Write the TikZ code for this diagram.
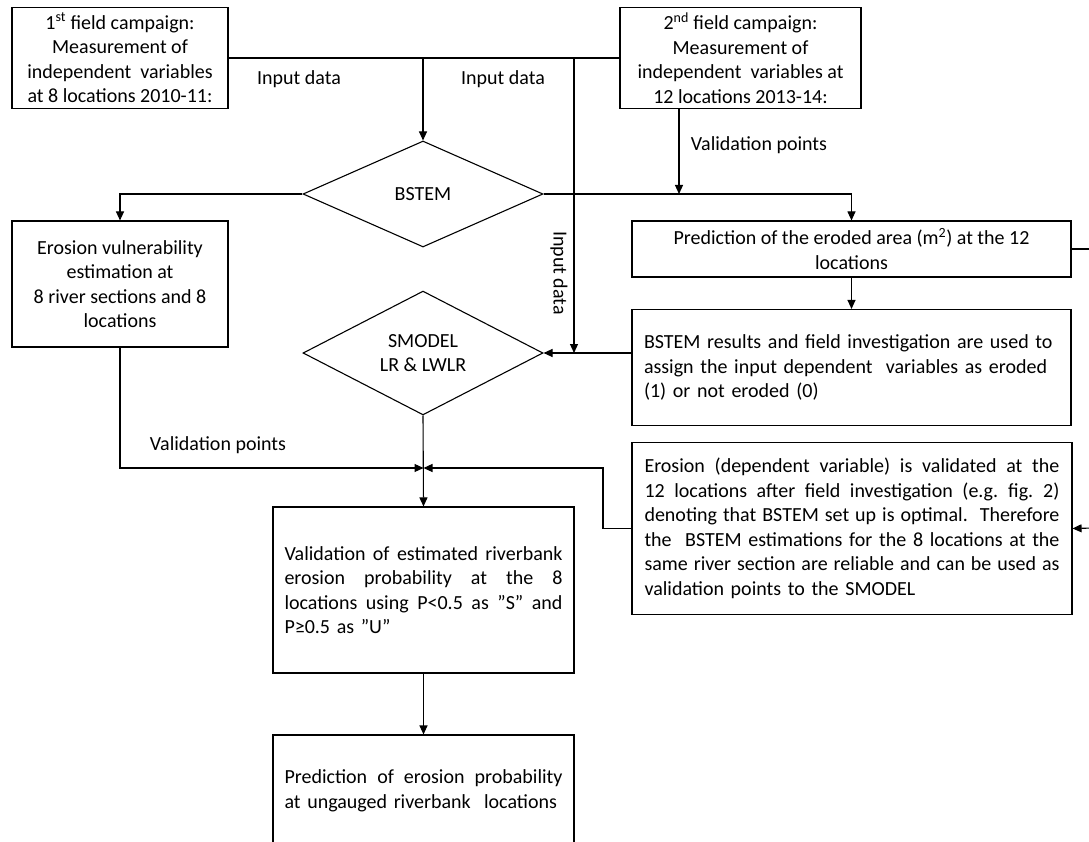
\documentclass[tikz,border=0pt]{standalone}
\usepackage{fontspec}
\setmainfont{Carlito}
\usetikzlibrary{arrows.meta,shapes.geometric}
\newcommand{\jline}[2]{\leavevmode\hbox to #1{\spaceskip=0.23em plus 1fil\relax #2}}
\tikzset{
  every node/.style={font=\fontsize{20}{24.5}\selectfont, text=black},
  box/.style={draw, line width=1.1pt, inner sep=0pt, rectangle},
  dia/.style={draw, line width=1.1pt, inner sep=0pt, diamond, minimum width=240pt, align=center},
  conn/.style={line width=1.1pt},
  arr/.style={line width=1.1pt, -{Triangle[length=9pt,width=8pt]}},
  lbl/.style={inner sep=0pt}
}
\begin{document}
\begin{tikzpicture}[x=1pt,y=-1pt]
\useasboundingbox (0,0) rectangle (1089,842);
\clip (0,0) rectangle (1089,842);

% boxes
\node[box, minimum width=216pt, minimum height=101pt, align=center] (b1) at (120,58)
  {1\textsuperscript{st} field campaign:\\Measurement of\\independent\ \ variables\\at 8 locations 2010-11:};
\node[box, minimum width=241pt, minimum height=101pt, align=center] (b2) at (740.5,58)
  {2\textsuperscript{nd} field campaign:\\Measurement of\\independent\ \ variables at\\12 locations 2013-14:};
\node[dia, minimum height=106pt] (bstem) at (423,194) {BSTEM};
\node[box, minimum width=216pt, minimum height=126pt, align=center] (ev) at (120,284)
  {Erosion vulnerability\\estimation at\\8 river sections and 8\\locations};
\node[box, minimum width=439pt, minimum height=56pt, align=center] (pred) at (851.5,249)
  {Prediction of the eroded area (m\textsuperscript{2}) at the 12\\locations};
\node[box, minimum width=439pt, minimum height=116pt, text width=415pt, align=left] (res) at (851.5,367.5)
  {BSTEM results and field investigation are used to\\assign the input dependent\ \ variables as eroded\\(1) or not eroded (0)};
\node[dia, minimum height=109pt] (smodel) at (423,353) {SMODEL\\LR \& LWLR};
\node[box, minimum width=440pt, minimum height=172pt, text width=415pt, align=left] (ero) at (852,528.5)
  {\jline{415pt}{Erosion (dependent variable) is validated at the}\\
   \jline{415pt}{12 locations after field investigation (e.g. fig. 2)}\\
   \jline{415pt}{denoting that BSTEM set up is optimal.\ \ Therefore}\\
   \jline{415pt}{the\ \ BSTEM estimations for the 8 locations at the}\\
   \jline{415pt}{same river section are reliable and can be used as}\\
   validation points to the SMODEL};
\node[box, minimum width=301pt, minimum height=166pt, text width=278pt, align=left] (val) at (423.5,590)
  {\jline{278pt}{Validation of estimated riverbank}\\
   \jline{278pt}{erosion probability at the 8}\\
   \jline{278pt}{locations using P<0.5 as ''S'' and}\\
   P≥0.5 as ''U''};
\node[box, minimum width=301pt, minimum height=112pt, text width=278pt, align=left] (fin) at (423.5,791)
  {\jline{278pt}{Prediction of erosion probability}\\
   at ungauged riverbank\ \ locations};

% labels
\node[lbl] (l1) at (299,79) {Input data};
\node[lbl] (l2) at (503,79) {Input data};
\node[lbl, rotate=-90] (l3) at (559,273) {Input data};
\node[lbl] (l4) at (759,145) {Validation points};
\node[lbl] (l5) at (218,445) {Validation points};

% helper coordinates
\coordinate (xin) at (574,0);
\coordinate (xv2) at (679,0);
\coordinate (merge) at (423.5,468);
\coordinate (xr) at (603,0);
\coordinate (redge1) at (1095,249);
\coordinate (redge2) at (1095,528);

% connectors
\draw[conn] (b1.east) -- (b2.west);
\draw[arr] (b1.east -| bstem.north) -- (bstem.north);
\draw[arr] (b1.east -| xin) -- (xin |- smodel.east);
\draw[arr] (res.west |- smodel.east) -- (smodel.east);
\draw[arr] (b2.south -| xv2) -- (bstem.east -| xv2);
\draw[arr] (bstem.east) -| (pred.north);
\draw[arr] (bstem.west) -| (ev.north);
\draw[arr] (pred.south) -- (res.north);
\draw[conn] (pred.east) -- (redge1);
\draw[arr] (redge2) -- (ero.east);
\draw[arr] (ev.south) |- (merge);
\draw[arr] (ero.west) -- (ero.west -| xr) -- (xr |- merge) -- (merge);
\draw[arr] (smodel.south) -- (val.north);
\draw[arr] (val.south) -- (fin.north);
\end{tikzpicture}
\end{document}
